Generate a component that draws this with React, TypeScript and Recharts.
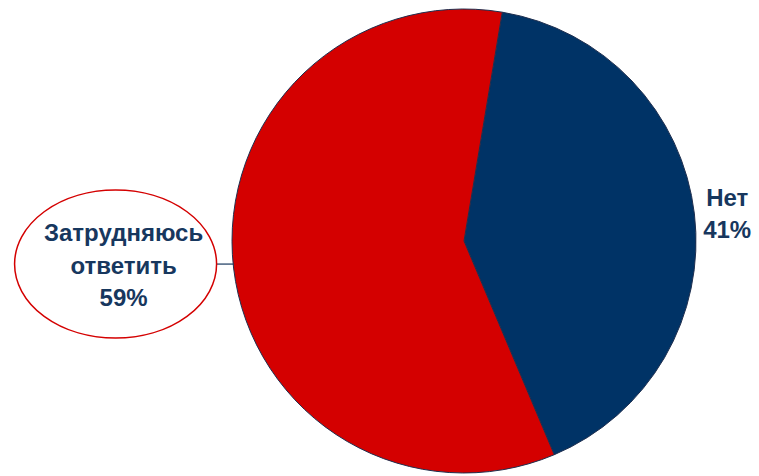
import { PieChart, Pie, Cell } from "recharts";

const names = ["Нет", "Затрудняюсь ответить"];
const values = [41, 59];
const colors = ["#003366", "#d40000"];

const data = names.map((name, i) => ({ name, value: values[i] }));

const RAD = Math.PI / 180;
const textColor = "#17375e";
const font = "'Liberation Sans', Arial, sans-serif";

function renderLabel(props: any) {
  const { cx, cy, outerRadius, midAngle, index, value } = props;
  const cos = Math.cos(-midAngle * RAD);
  const sin = Math.sin(-midAngle * RAD);
  if (index === 0) {
    const x = cx + (outerRadius + 33) * cos;
    const y = cy + (outerRadius + 33) * sin;
    return (
      <text x={x} y={y} textAnchor="middle" fill={textColor} fontFamily={font} fontWeight="bold" fontSize={24}>
        <tspan x={x} dy={-4}>{names[0]}</tspan>
        <tspan x={x} dy={32}>{value}%</tspan>
      </text>
    );
  }
  // left label in an ellipse with a short leader line
  const ex = cx + outerRadius * cos;
  const ey = cy + outerRadius * sin - 4;
  const ecx = ex - 118;
  const ecy = ey;
  return (
    <g>
      <line x1={ex} y1={ey} x2={ecx + 92} y2={ey} stroke={textColor} strokeWidth={1.2} />
      <ellipse cx={ecx} cy={ecy} rx={101} ry={74} fill="#fff" stroke="#d40000" strokeWidth={1.5} />
      <text x={ecx + 8} y={ecy} textAnchor="middle" fill={textColor} fontFamily={font} fontWeight="bold" fontSize={24}>
        <tspan x={ecx + 8} dy={-23}>Затрудняюсь</tspan>
        <tspan x={ecx + 8} dy={33}>ответить</tspan>
        <tspan x={ecx + 8} dy={32}>{value}%</tspan>
      </text>
    </g>
  );
}

export default function App() {
  return (
    <div style={{ position: "absolute", left: 0, top: 0, width: 759, height: 476, background: "#fff" }}>
      <PieChart width={759} height={476} margin={{ top: 0, right: 0, bottom: 0, left: 0 }}>
        <Pie
          data={data}
          dataKey="value"
          nameKey="name"
          cx={464}
          cy={241}
          outerRadius={232}
          startAngle={80.5}
          endAngle={-279.5}
          stroke="#1f2f4f"
          strokeWidth={1}
          label={renderLabel}
          labelLine={false}
          isAnimationActive={false}
        >
          {data.map((d, i) => (
            <Cell key={d.name} fill={colors[i]} />
          ))}
        </Pie>
      </PieChart>
    </div>
  );
}
